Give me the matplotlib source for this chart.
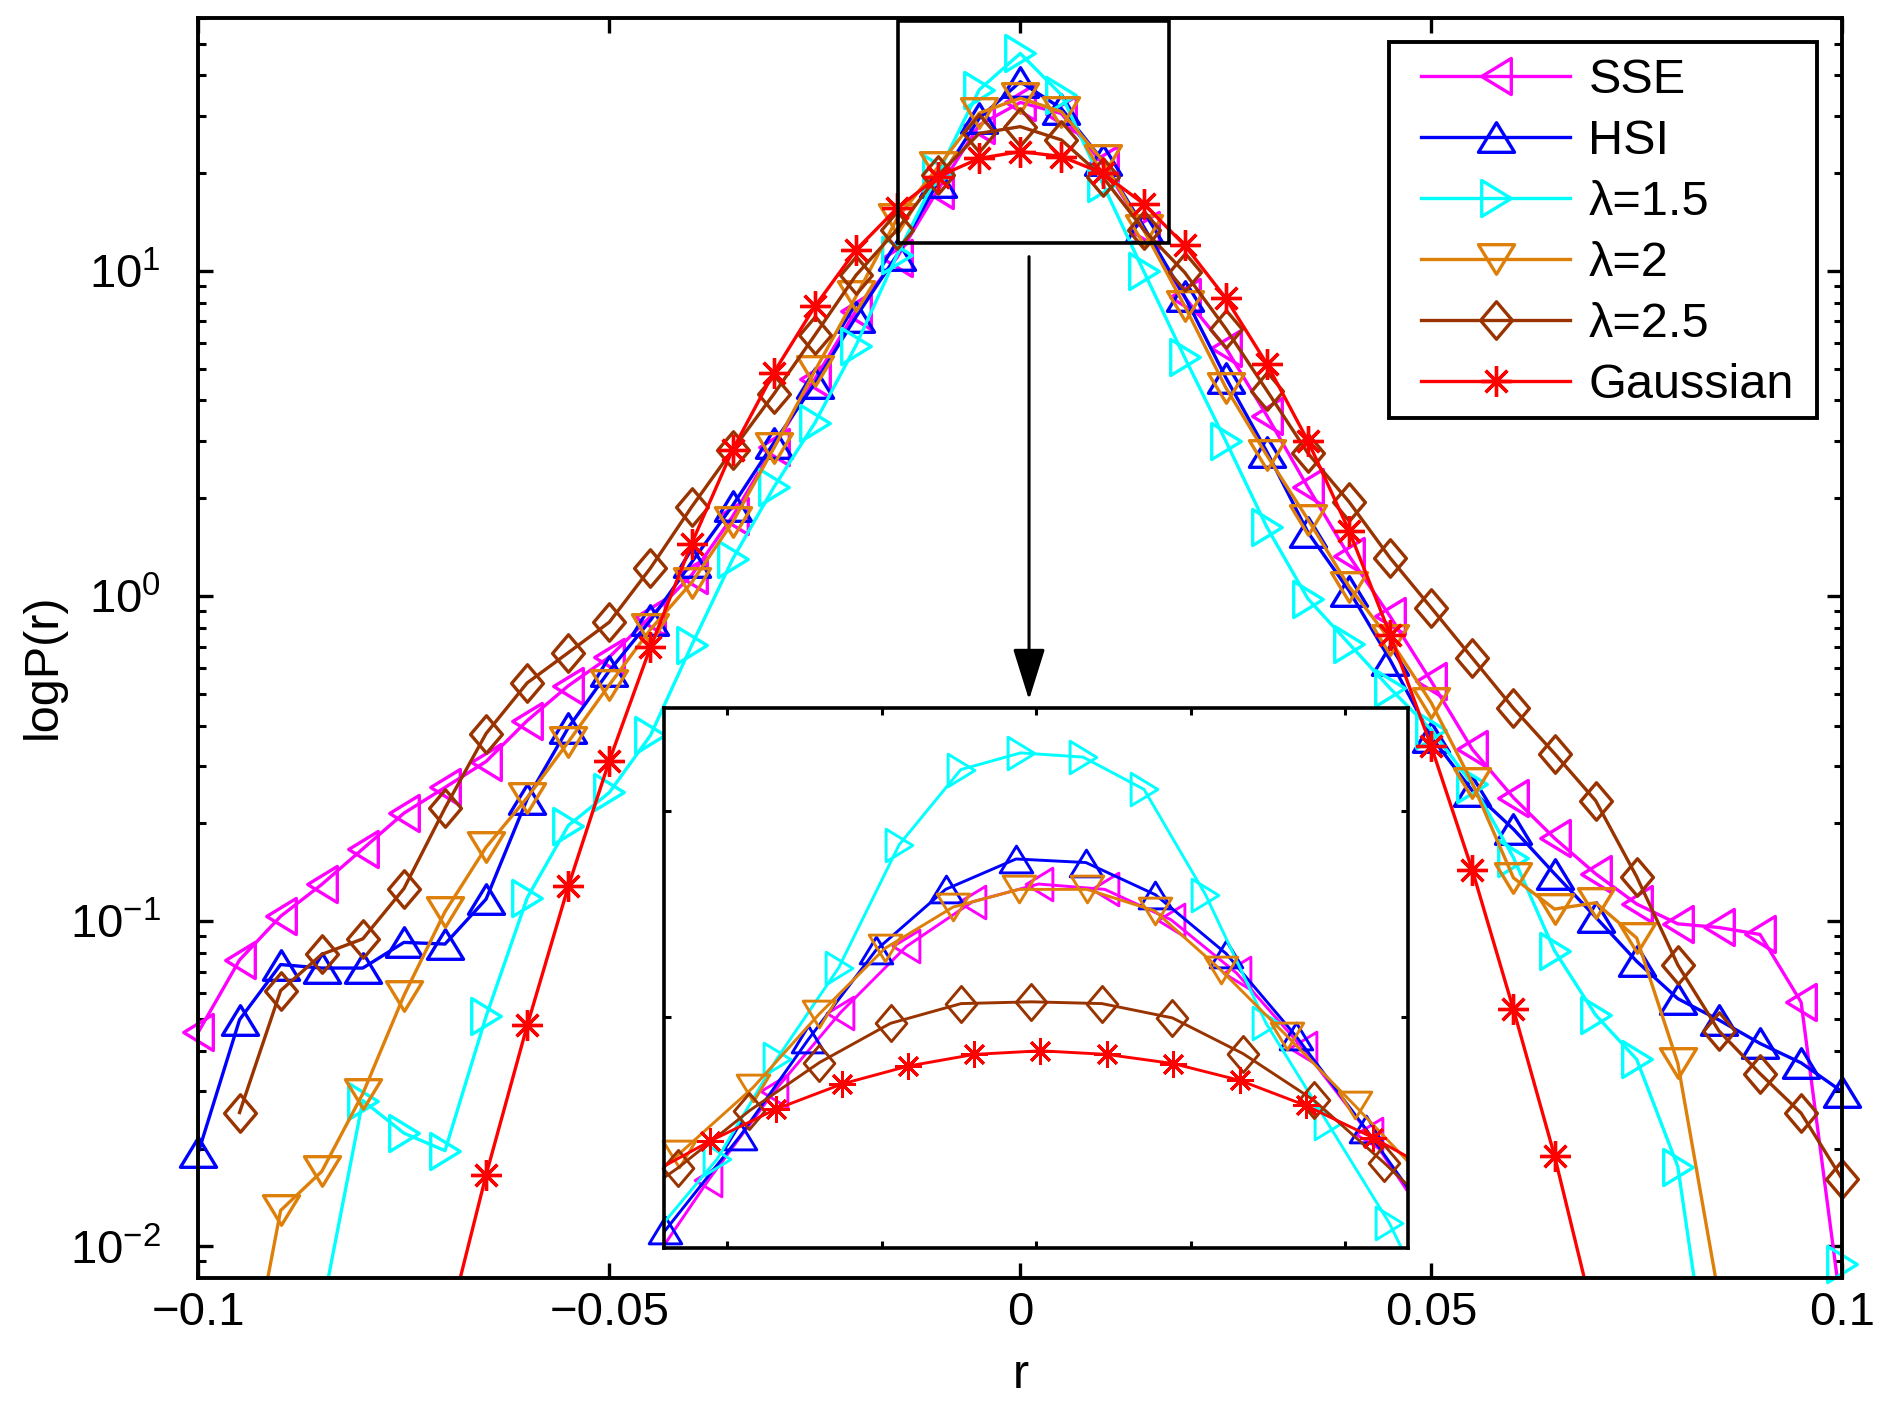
import numpy as np
import matplotlib
matplotlib.use('Agg')
import matplotlib.pyplot as plt
from matplotlib.path import Path
from matplotlib.lines import Line2D
from matplotlib.patches import Rectangle, FancyArrowPatch
from matplotlib.ticker import LogLocator, NullFormatter

plt.rcParams['font.family'] = ['Liberation Sans', 'DejaVu Sans']
plt.rcParams['mathtext.fontset'] = 'custom'
plt.rcParams['mathtext.rm'] = 'Liberation Sans'
plt.rcParams['mathtext.it'] = 'Liberation Sans:italic'
plt.rcParams['mathtext.default'] = 'regular'

nan = np.nan

# ---------------- data: main plot ----------------
r = np.round(np.linspace(-0.1, 0.1, 41), 3)

SSE = [0.0457, 0.0760, 0.1036, 0.1298, 0.167, 0.215, 0.258, 0.310, 0.414, 0.530,
       0.650, 0.865, 1.16, 1.76, 2.87, 4.65, 7.55, 11.0, 17.8, 28.1,
       33.0, 30.5, 21.4, 13.4, 8.3, 5.8, 3.59, 2.16, 1.33, 0.866,
       0.547, 0.338, 0.240, 0.180, 0.140, 0.113, 0.0982, 0.0957, 0.0911, 0.0564, 0.0061]
HSI = [0.0195, 0.0498, 0.0736, 0.0718, 0.0718, 0.0861, 0.0851, 0.117, 0.238, 0.394,
       0.590, 0.843, 1.27, 1.90, 2.96, 4.51, 7.22, 11.2, 18.8, 29.5,
       38.2, 31.6, 21.9, 13.7, 8.35, 4.7, 2.78, 1.57, 1.04, 0.636,
       0.369, 0.252, 0.192, 0.140, 0.103, 0.0753, 0.0578, 0.0497, 0.0421, 0.0367, 0.0299]
LAM15 = [nan, nan, nan, 0.0063, 0.0281, 0.0223, 0.0197, 0.0510, 0.118, 0.197,
         0.249, 0.373, 0.705, 1.30, 2.16, 3.41, 5.9, 11.2, 20.0, 36.1,
         46.7, 34.8, 18.6, 10.0, 5.42, 3.00, 1.63, 0.981, 0.714, 0.520,
         0.388, 0.264, 0.157, 0.0812, 0.0515, 0.0376, 0.0176, 0.0024, nan, nan, 0.0088]
LAM2 = [nan, 0.0028, 0.0129, 0.0170, 0.0295, 0.0591, 0.107, 0.169, 0.240, 0.356,
        0.534, 0.790, 1.10, 1.69, 2.85, 4.93, 8.35, 14.5, 20.9, 30.6,
        34.0, 30.9, 21.9, 13.4, 7.8, 4.38, 2.71, 1.72, 1.07, 0.733,
        0.470, 0.266, 0.136, 0.109, 0.114, 0.0888, 0.0366, 0.0070, nan, nan, nan]
LAM25 = [nan, 0.0258, 0.0612, 0.0791, 0.0883, 0.126, 0.223, 0.378, 0.541, 0.670,
         0.832, 1.22, 1.88, 2.82, 4.18, 6.35, 9.7, 13.4, 19.7, 26.5,
         27.8, 25.3, 19.5, 13.4, 9.9, 6.65, 4.29, 2.75, 1.95, 1.31,
         0.921, 0.645, 0.452, 0.328, 0.235, 0.137, 0.0734, 0.0460, 0.0340, 0.0257, 0.0161]
GAUSS = [nan, nan, nan, nan, nan, nan, 0.0052, 0.0166, 0.0478, 0.128,
         0.312, 0.697, 1.45, 2.82, 4.87, 7.78, 11.6, 15.6, 19.5, 22.2,
         23.3, 22.5, 20.0, 16.1, 12.0, 8.25, 5.18, 3.00, 1.59, 0.762,
         0.345, 0.1435, 0.0536, 0.0190, 0.00575, nan, nan, nan, nan, nan, nan]

LABELS = ['SSE', 'HSI', 'λ=1.5', 'λ=2', 'λ=2.5', 'Gaussian']
XTICKS = [-0.1, -0.05, 0, 0.05, 0.1]
XTICK_LABELS = ['\u22120.1', '\u22120.05', '0', '0.05', '0.1']
YTICKS = [1e-2, 1e-1, 1e0, 1e1]
YTICK_LABELS = ['$10^{\u22122}$', '$10^{\u22121}$', '$10^{0}$', '$10^{1}$']

# ---------------- data: inset ----------------
IN_SSE_X = [-0.01275, -0.01061, -0.00847, -0.00633, -0.00420, -0.00206, 0.00008,
            0.00222, 0.00436, 0.00649, 0.00863, 0.01077, 0.01291]
IN_SSE_Y = [6.07, 13.13, 19.62, 25.33, 30.13, 33.38, 34.67, 34.28, 32.08, 28.19, 22.73, 16.51, 9.37]
IN_HSI_X = [-0.01425, -0.01200, -0.00957, -0.00737, -0.00518, -0.00293, -0.00065,
            0.00161, 0.00386, 0.00615, 0.00840, 0.01066, 0.01291]
IN_HSI_Y = [2.93, 9.50, 16.38, 23.38, 29.87, 34.28, 36.49, 36.23, 33.89, 29.61, 23.64, 16.90, 9.81]
IN_L15_X = [-0.01230, -0.01032, -0.00839, -0.00639, -0.00443, -0.00244, -0.00050,
            0.00152, 0.00349, 0.00548, 0.00744, 0.00944, 0.01143, 0.01339]
IN_L15_Y = [9.37, 14.69, 21.96, 28.58, 37.53, 42.98, 44.20, 43.89, 41.55, 33.90, 24.55, 17.28, 10.02, 1.0]
IN_L2_X = [-0.01373, -0.01154, -0.00916, -0.00703, -0.00489, -0.00269, -0.00056,
           0.00164, 0.00383, 0.00597, 0.00811, 0.01031, 0.01250]
IN_L2_Y = [10.87, 15.08, 19.88, 25.20, 30.00, 32.99, 34.28, 34.28, 32.73, 28.44, 23.64, 18.58, 13.39]
IN_L25_X = [-0.01387, -0.01159, -0.00928, -0.00701, -0.00471, -0.00243, -0.00015,
            0.00213, 0.00441, 0.00669, 0.00898, 0.01125, 0.01353]
IN_L25_Y = [10.46, 14.04, 18.19, 21.70, 24.55, 25.98, 26.11, 25.98, 24.94, 22.35, 18.97, 14.43, 9.58]
IN_GAU_X = [-0.01269, -0.01055, -0.00841, -0.00628, -0.00414, -0.00200, 0.00014,
            0.00228, 0.00444, 0.00659, 0.00872, 0.01089, 0.01302]
IN_GAU_Y = [13.37, 15.99, 18.32, 20.14, 21.44, 22.29, 22.55, 22.29, 21.62, 20.40, 18.58, 16.25, 13.60]

# ---------------- styles ----------------
COLORS = ['#FF00FF', '#0000FF', '#00FFFF', '#DE7F0A', '#993300', '#FF0000']

def tri(direction, ratio=0.82):
    if direction == 'up':
        v = [(0, ratio), (-1, -ratio), (1, -ratio)]
    elif direction == 'down':
        v = [(0, -ratio), (-1, ratio), (1, ratio)]
    elif direction == 'left':
        v = [(-ratio, 0), (ratio, 1), (ratio, -1)]
    else:
        v = [(ratio, 0), (-ratio, 1), (-ratio, -1)]
    return Path(v + [v[0]], [Path.MOVETO, Path.LINETO, Path.LINETO, Path.CLOSEPOLY])

DIAMOND = Path([(0, 1), (0.85, 0), (0, -1), (-0.85, 0), (0, 1)],
               [Path.MOVETO, Path.LINETO, Path.LINETO, Path.LINETO, Path.CLOSEPOLY])
ASTER = (8, 2, 0)
MARKERS = [tri('left'), tri('up'), tri('right'), tri('down'), DIAMOND, ASTER]
MS_MAIN = [26, 26, 26, 26, 27, 22]
MS_IN = [23.5, 23.5, 23.5, 23.5, 26, 19]
LW_MAIN = 2.4
LW_IN = 2.1

YLIM = (0.00802, 60.0)
XLIM = (-0.1, 0.1)

fig = plt.figure(figsize=(18.9, 14.07), dpi=100)
ax = fig.add_axes([0.1050, 0.0920, 0.8697, 0.8952])
ax.set_yscale('log')

main_series = [SSE, HSI, LAM15, LAM2, LAM25, GAUSS]
handles = []
for ys, c, mk, ms, lab in zip(main_series, COLORS, MARKERS, MS_MAIN, LABELS):
    ys = np.asarray(ys, float)
    ax.plot(r, ys, '-', color=c, lw=LW_MAIN, zorder=2)
    m = np.isfinite(ys) & (ys >= YLIM[0]) & (ys <= YLIM[1])
    ax.plot(r[m], ys[m], linestyle='none', marker=mk, ms=ms, mec=c, mfc='none',
            mew=LW_MAIN, clip_on=False, zorder=2)
    handles.append(Line2D([], [], color=c, lw=LW_MAIN, marker=mk, ms=ms, mec=c,
                          mfc='none', mew=LW_MAIN))

ax.set_xlim(*XLIM)
ax.set_ylim(*YLIM)
ax.set_xticks(XTICKS)
ax.set_xticklabels(XTICK_LABELS)
ax.set_yticks(YTICKS)
ax.set_yticklabels(YTICK_LABELS)
ax.yaxis.set_minor_locator(LogLocator(base=10, subs=np.arange(2, 10)))
ax.yaxis.set_minor_formatter(NullFormatter())
ax.tick_params(which='major', direction='in', length=11, width=2.4,
               top=True, right=True, labelsize=34)
ax.tick_params(axis='x', which='major', pad=10)
ax.tick_params(axis='y', which='major', pad=27)
ax.tick_params(which='minor', direction='in', length=5.6, width=2.2,
               top=True, right=True)
for s in ax.spines.values():
    s.set_linewidth(2.8)

ax.set_xlabel('r', fontsize=35)
ax.xaxis.set_label_coords(0.5, -0.060)
ax.set_ylabel('logP(r)', fontsize=35)
ax.yaxis.set_label_coords(-0.0806, 0.485)

# legend: frame drawn separately so the padding can match the original
LEG_BOX = (0.7246, 0.6822, 0.9845 - 0.7246, 0.9813 - 0.6822)
ax.add_patch(Rectangle(LEG_BOX[:2], LEG_BOX[2], LEG_BOX[3], transform=ax.transAxes,
                       facecolor='white', edgecolor='black', lw=2.8, zorder=9))
leg = ax.legend(handles, LABELS, loc='upper left', bbox_to_anchor=(0.7436, 0.9684),
                borderaxespad=0, fontsize=35, handlelength=3.08, handletextpad=0.37,
                borderpad=0, labelspacing=0.33, numpoints=1, frameon=False)
leg.set_zorder(10)

# zoom box and arrow
BOX_X = (-0.01491, 0.01806)
BOX_Y = (12.17, 58.9)
ax.add_patch(Rectangle((BOX_X[0], BOX_Y[0]), BOX_X[1] - BOX_X[0], BOX_Y[1] - BOX_Y[0],
                       fill=False, edgecolor='black', lw=2.6, zorder=8))
ARROW_X = 0.00106
ARROW_Y = (11.07, 0.4796)
ax.add_patch(FancyArrowPatch((ARROW_X, ARROW_Y[0]), (ARROW_X, ARROW_Y[1]),
                             arrowstyle='-|>,head_length=1.6,head_width=0.5',
                             mutation_scale=20, lw=2.2, color='black',
                             shrinkA=0, shrinkB=0, zorder=8))

# ---------------- inset ----------------
ax2 = fig.add_axes([0.3515, 0.1129, 0.3936, 0.3840])
ax2.set_zorder(5)
ax2.set_facecolor('white')
IN_XLIM = (-0.01203, 0.01204)
IN_YLIM = (8.21, 47.47)
inset_series = [(IN_SSE_X, IN_SSE_Y), (IN_HSI_X, IN_HSI_Y), (IN_L15_X, IN_L15_Y),
                (IN_L2_X, IN_L2_Y), (IN_L25_X, IN_L25_Y), (IN_GAU_X, IN_GAU_Y)]
for (xs, ys), c, mk, ms in zip(inset_series, COLORS, MARKERS, MS_IN):
    xs = np.asarray(xs, float)
    ys = np.asarray(ys, float)
    ax2.plot(xs, ys, '-', color=c, lw=LW_IN, zorder=2)
    m = (xs >= IN_XLIM[0] - 1e-4) & (xs <= IN_XLIM[1] + 1e-4) & \
        (ys >= IN_YLIM[0]) & (ys <= IN_YLIM[1])
    ax2.plot(xs[m], ys[m], linestyle='none', marker=mk, ms=ms, mec=c, mfc='none',
             mew=LW_IN, clip_on=False, zorder=2)
ax2.set_xlim(*IN_XLIM)
ax2.set_ylim(*IN_YLIM)
ax2.set_xticks([-0.01, -0.005, 0, 0.005, 0.01])
ax2.set_yticks([25, 40])
ax2.tick_params(direction='in', length=5, width=2.2, top=True, right=True,
                labelbottom=False, labelleft=False)
for s in ax2.spines.values():
    s.set_linewidth(2.6)

fig.savefig('out.png', dpi=100)
